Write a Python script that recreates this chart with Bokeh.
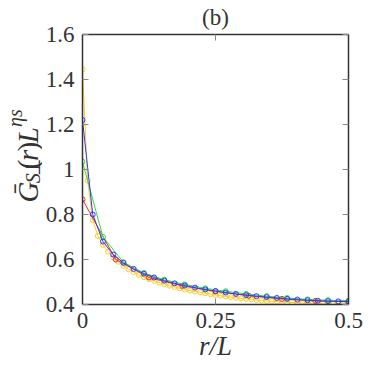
import math
from bokeh.plotting import figure
from bokeh.layouts import row
from bokeh.models import FixedTicker, LinearAxis, Range1d
from bokeh.core.properties import value
from bokeh.embed import file_html
from bokeh.resources import INLINE

# Correlation curves for four system sizes, sampled at r = k / L
sizes = [16, 26, 52, 104]
red_vals = [0.867, 0.600, 0.520, 0.483, 0.458, 0.439, 0.425, 0.416, 0.412]
green_vals = [1.035, 0.700, 0.588, 0.540, 0.510, 0.489, 0.472, 0.459, 0.447,
              0.437, 0.429, 0.423, 0.419, 0.417]
blue_vals = [1.220, 0.800, 0.680, 0.622, 0.585, 0.558, 0.537, 0.520, 0.506,
             0.494, 0.484, 0.475, 0.467, 0.460, 0.453, 0.447, 0.442, 0.437,
             0.433, 0.429, 0.425, 0.422, 0.419, 0.417, 0.415, 0.414, 0.413]
yellow_vals = [1.445, 0.950, 0.775, 0.705, 0.665, 0.635, 0.610, 0.590, 0.572,
               0.557, 0.544, 0.532, 0.522, 0.513, 0.505, 0.497, 0.490, 0.484,
               0.478, 0.472, 0.467, 0.462, 0.458, 0.454, 0.450, 0.446, 0.442,
               0.439, 0.436, 0.433, 0.430, 0.427, 0.425, 0.423, 0.420, 0.418,
               0.416, 0.414, 0.413, 0.411, 0.410, 0.409, 0.407, 0.406, 0.405,
               0.404, 0.404, 0.403, 0.403, 0.402, 0.402, 0.402, 0.402]

x_ticks = [0, 0.25, 0.5]
x_tick_labels = {0: "0", 0.25: "0.25", 0.5: "0.5"}
y_ticks = [0.4, 0.6, 0.8, 1.0, 1.2, 1.4, 1.6]
y_tick_labels = {0.4: "0.4", 0.6: "0.6", 0.8: "0.8", 1: "1", 1.2: "1.2", 1.4: "1.4", 1.6: "1.6"}

FONT = "'Liberation Serif'"
W, H = 375, 365
LABEL_W = 42                      # strip holding the rotated y label
FRAME_L, FRAME_R, FRAME_T, FRAME_B = 78, 348, 34, 304
TEXT = "#333333"
TEXT_DROP = 8                     # glyph text sits this far past its anchor

p = figure(width=W - LABEL_W, height=H, output_backend="svg",
           toolbar_location=None,
           x_range=Range1d(0, 0.5), y_range=Range1d(0.4, 1.6),
           x_axis_location=None, y_axis_location=None,
           min_border_left=FRAME_L - LABEL_W, min_border_right=W - FRAME_R,
           min_border_top=FRAME_T, min_border_bottom=H - FRAME_B)
p.grid.visible = False
p.outline_line_color = None


def make_axis(ticks, overrides, show_labels):
    ax = LinearAxis(ticker=FixedTicker(ticks=ticks))
    ax.major_label_overrides = overrides
    ax.axis_line_color = "#333333"
    ax.axis_line_width = 1.5
    ax.major_tick_line_color = "#888888"
    ax.major_tick_line_width = 1
    ax.major_tick_in = 6
    ax.major_tick_out = 0
    ax.minor_tick_line_color = None
    ax.major_label_text_font = FONT
    ax.major_label_text_font_size = "23px" if show_labels else "0px"
    ax.major_label_text_color = TEXT
    ax.major_label_standoff = 8 if show_labels else 0
    if not show_labels:
        ax.major_label_text_alpha = 0
    return ax


xaxis = make_axis(x_ticks, x_tick_labels, True)
xaxis.axis_label = "r/L"
xaxis.axis_label_text_font = FONT
xaxis.axis_label_text_font_style = "italic"
xaxis.axis_label_text_font_size = "27px"
xaxis.axis_label_text_color = TEXT
xaxis.axis_label_standoff = 0
p.add_layout(xaxis, "below")
p.add_layout(make_axis(y_ticks, y_tick_labels, True), "left")

# mirrored top axis doubles as the panel tag
top_axis = make_axis(x_ticks, x_tick_labels, False)
top_axis.axis_label = "(b)"
top_axis.axis_label_text_font = FONT
top_axis.axis_label_text_font_style = "normal"
top_axis.axis_label_text_font_size = "23px"
top_axis.axis_label_text_color = TEXT
top_axis.axis_label_standoff = 5
p.add_layout(top_axis, "above")
p.add_layout(make_axis(y_ticks, y_tick_labels, False), "right")

series = [
    (yellow_vals, sizes[3], "#ffcc22"),
    (red_vals, sizes[0], "#ee2b2b"),
    (green_vals, sizes[1], "#33dd33"),
    (blue_vals, sizes[2], "#3434ff"),
]
for vals, L, color in series:
    xs = [k / L for k in range(len(vals))]
    p.line(xs, vals, line_color=color, line_width=1)
    p.scatter(xs, vals, marker="circle", size=5, fill_color=None,
              line_color=color, line_width=1)

# Strip on the left carrying the rotated y label, pixel coordinates (y down)
lab = figure(width=LABEL_W, height=H, output_backend="svg",
             toolbar_location=None, x_range=Range1d(0, LABEL_W),
             y_range=Range1d(H, 0), x_axis_location=None,
             y_axis_location=None, min_border=0)
lab.grid.visible = False
lab.outline_line_color = None

rot = math.pi / 2
base = 35 - TEXT_DROP
# pieces: G-bar, subscript S-perp, (r), L, superscript eta s
pieces = [
    ("Ḡ", base, 227, "29px", "italic"),
    ("S", base + 5, 201, "20px", "italic"),
    ("⊥", base + 5, 191, "20px", "normal"),
    ("(", base, 182, "29px", "normal"),
    ("r", base, 171, "29px", "italic"),
    (")", base, 158, "29px", "normal"),
    ("L", base, 147, "29px", "italic"),
    ("ηs", base - 13, 125, "20px", "italic"),
]
for txt, cx, cy, size, style in pieces:
    lab.text(x=[cx], y=[cy], text=[txt], angle=rot, text_font=value(FONT),
             text_font_size=size, text_font_style=style, text_color=TEXT,
             text_align="left", text_baseline="alphabetic")

layout = row(lab, p, spacing=0)
open("out.html", "w").write(file_html(layout, INLINE))
